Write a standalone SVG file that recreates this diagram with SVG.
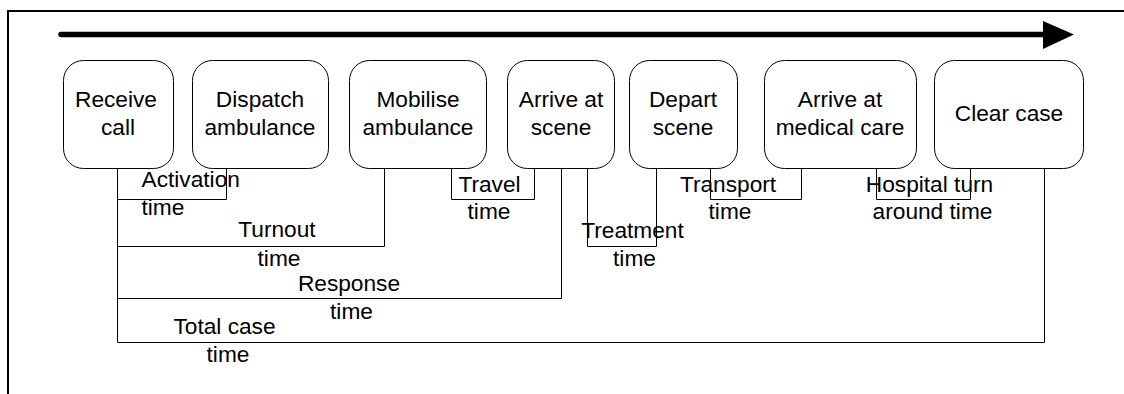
<svg xmlns="http://www.w3.org/2000/svg" width="1124" height="394" viewBox="0 0 1124 394">
<style>
.box{fill:#fff;stroke:#000;stroke-width:1}
.t{font-family:"Liberation Sans",Arial,sans-serif;font-size:22.7px;fill:#000;text-anchor:middle}
.tl{font-family:"Liberation Sans",Arial,sans-serif;font-size:22.7px;fill:#000}
.c{fill:none;stroke:#000;stroke-width:1}
</style>
<rect width="1124" height="394" fill="#fff"/>
<path d="M8,394 V11 H1124" fill="none" stroke="#000" stroke-width="2"/>
<g id="timeline">
<line x1="61" y1="34.5" x2="1046" y2="34.5" stroke="#000" stroke-width="5.5" stroke-linecap="round"/>
<polygon points="1043,21 1074,34.5 1043,49" fill="#000"/>
</g>
<g id="connectors">
<path class="c" d="M117.5,168 V199.5 H226.5 V168"/>
<path class="c" d="M117.5,168 V246.5 H384.5 V168"/>
<path class="c" d="M117.5,168 V298.5 H561.5 V168"/>
<path class="c" d="M117.5,168 V342.5 H1044.5 V168"/>
<path class="c" d="M451.5,168 V199.5 H534.5 V168"/>
<path class="c" d="M587.5,168 V246.5 H656.5 V168"/>
<path class="c" d="M710.5,168 V199.5 H801.5 V168"/>
<path class="c" d="M876.5,168 V199.5 H970.5 V168"/>
</g>
<g id="receive-call"><rect class="box" x="63.5" y="60.5" width="110" height="108" rx="20"/><text class="t" x="116" y="107">Receive</text><text class="t" x="118" y="135">call</text></g>
<g id="dispatch-ambulance"><rect class="box" x="192.5" y="60.5" width="136" height="108" rx="20"/><text class="t" x="260" y="107">Dispatch</text><text class="t" x="260" y="135">ambulance</text></g>
<g id="mobilise-ambulance"><rect class="box" x="349.5" y="60.5" width="137" height="108" rx="20"/><text class="t" x="418" y="107">Mobilise</text><text class="t" x="418" y="135">ambulance</text></g>
<g id="arrive-scene"><rect class="box" x="507.5" y="60.5" width="107" height="108" rx="20"/><text class="t" x="561" y="107">Arrive at</text><text class="t" x="561" y="135">scene</text></g>
<g id="depart-scene"><rect class="box" x="629.5" y="60.5" width="108" height="108" rx="20"/><text class="t" x="683" y="107">Depart</text><text class="t" x="683" y="135">scene</text></g>
<g id="arrive-medical"><rect class="box" x="764.5" y="60.5" width="152" height="108" rx="20"/><text class="t" x="840" y="107">Arrive at</text><text class="t" x="840" y="135">medical care</text></g>
<g id="clear-case"><rect class="box" x="934.5" y="60.5" width="149" height="108" rx="20"/><text class="t" x="1009" y="121">Clear case</text></g>
<g id="labels">
<text class="tl" x="141.5" y="187">Activation</text><text class="tl" x="141.5" y="215">time</text>
<text class="t" x="277" y="237">Turnout</text><text class="t" x="279" y="266">time</text>
<text class="t" x="349" y="291">Response</text><text class="t" x="351.5" y="319">time</text>
<text class="t" x="224.5" y="334">Total case</text><text class="t" x="228" y="362">time</text>
<text class="t" x="489.5" y="192">Travel</text><text class="t" x="489" y="219">time</text>
<text class="t" x="632.5" y="238">Treatment</text><text class="t" x="634.5" y="266">time</text>
<text class="t" x="728" y="192">Transport</text><text class="t" x="730" y="219">time</text>
<text class="t" x="929.5" y="192">Hospital turn</text><text class="t" x="932.5" y="219">around time</text>
</g>
</svg>
